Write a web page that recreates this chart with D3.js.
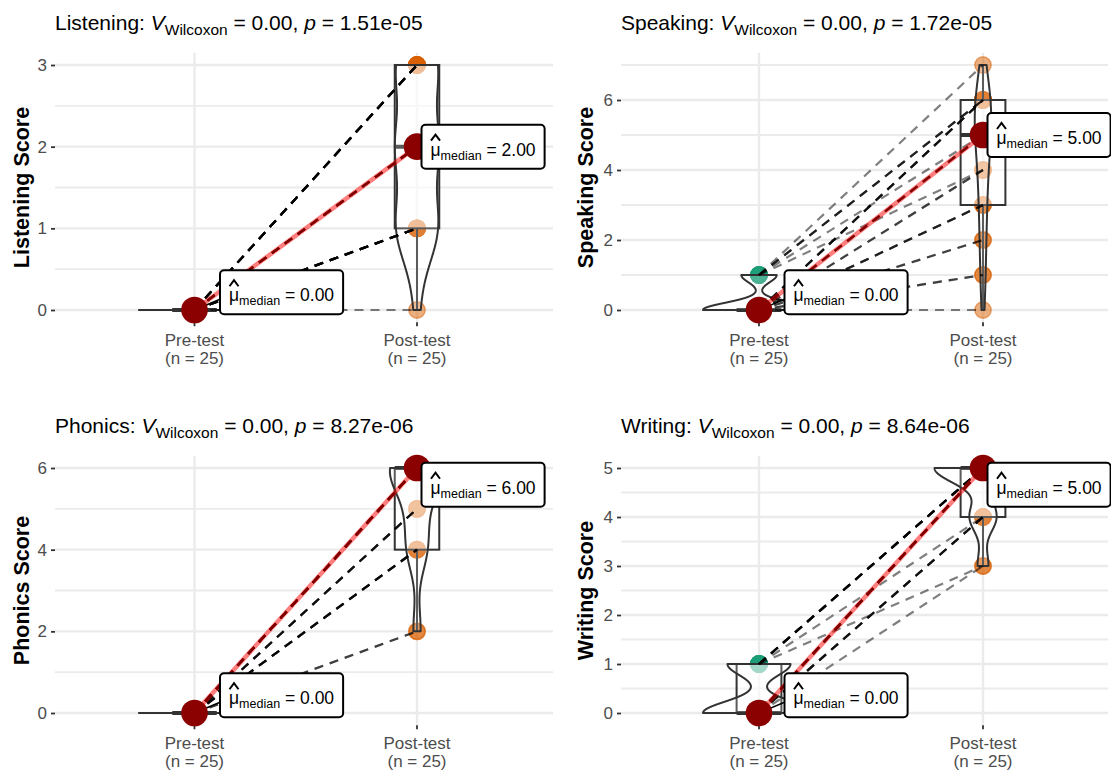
<!DOCTYPE html>
<head>
  <meta charset="utf-8" />
  <script src="https://d3js.org/d3.v7.min.js"></script>
  <style>
    body { margin: 0; background: #fff; }
    text { font-family: "Liberation Sans", Arial, sans-serif; }
  </style>
</head>
<body>
  <script>
    var width = 1111, height = 771;

    // categories and stats
    var conditions = ["Pre-test", "Post-test"];
    var skills = ["Listening", "Speaking", "Phonics", "Writing"];
    var vStats = ["0.00", "0.00", "0.00", "0.00"];
    var pValues = ["1.51e-05", "1.72e-05", "8.27e-06", "8.64e-06"];
    var yTicks = [[0, 1, 2, 3], [0, 2, 4, 6], [0, 2, 4, 6], [0, 1, 2, 3, 4, 5]];

    // scores per subject (25 subjects, same order in pre and post)
    var listeningPre  = [0,0,0,0,0,0,0,0,0,0,0,0,0,0,0,0,0,0,0,0,0,0,0,0,0];
    var listeningPost = [0,1,1,1,1,1,1,1,1,2,2,2,2,2,2,2,2,3,3,3,3,3,3,3,3];
    var speakingPre   = [0,0,0,0,0,0,0,0,0,0,0,0,0,0,0,0,0,0,0,1,1,1,1,1,1];
    var speakingPost  = [0,1,1,2,2,3,3,3,4,4,5,5,5,5,5,6,6,6,6,7,6,6,6,5,4];
    var phonicsPre    = [0,0,0,0,0,0,0,0,0,0,0,0,0,0,0,0,0,0,0,0,0,0,0,0,0];
    var phonicsPost   = [2,2,4,4,4,4,4,5,5,5,5,6,6,6,6,6,6,6,6,6,6,6,6,6,6];
    var writingPre    = [0,0,0,0,0,0,0,0,0,0,0,0,0,0,0,0,1,1,1,1,1,1,1,1,1];
    var writingPost   = [5,5,5,5,5,5,5,5,5,5,5,4,4,4,4,3,5,5,5,5,5,5,5,4,3];

    var panels = [
      { name: skills[0], pre: listeningPre, post: listeningPost, v: vStats[0], p: pValues[0], ticks: yTicks[0], col: 0, row: 0 },
      { name: skills[1], pre: speakingPre,  post: speakingPost,  v: vStats[1], p: pValues[1], ticks: yTicks[1], col: 1, row: 0 },
      { name: skills[2], pre: phonicsPre,   post: phonicsPost,   v: vStats[2], p: pValues[2], ticks: yTicks[2], col: 0, row: 1 },
      { name: skills[3], pre: writingPre,   post: writingPost,   v: vStats[3], p: pValues[3], ticks: yTicks[3], col: 1, row: 1 }
    ];

    var cols = [
      { left: 55, right: 553, pre: 194.5, post: 417, yTitleX: 29 },
      { left: 621, right: 1108, pre: 759, post: 983, yTitleX: 593 }
    ];
    var rows = [{ top: 52.75, bottom: 322.25 }, { top: 455.75, bottom: 725.25 }];

    var preColor = "#1B9E77", postColor = "#D95F02";

    var svg = d3.select("body").append("svg")
      .attr("width", width).attr("height", height)
      .style("background", "#fff");

    function sorted(v) { return v.slice().sort(d3.ascending); }

    // R's bw.nrd0
    function bwNrd0(v) {
      var s = sorted(v);
      var hi = d3.deviation(v);
      var lo = Math.min(hi, (d3.quantile(s, 0.75) - d3.quantile(s, 0.25)) / 1.34);
      if (!lo) lo = hi || Math.abs(v[0]) || 1;
      return 0.9 * lo * Math.pow(v.length, -0.2);
    }

    function kde(v) {
      var bw = bwNrd0(v), lo = d3.min(v), hi = d3.max(v), n = 512, out = [];
      for (var i = 0; i < n; i++) {
        var t = lo + (hi - lo) * i / (n - 1);
        var s = d3.sum(v, function (x) { return Math.exp(-0.5 * Math.pow((t - x) / bw, 2)); });
        out.push({ v: t, d: s / (v.length * bw * Math.sqrt(2 * Math.PI)) });
      }
      return out;
    }

    function boxStats(v) {
      var s = sorted(v);
      var q1 = d3.quantile(s, 0.25), med = d3.quantile(s, 0.5), q3 = d3.quantile(s, 0.75);
      var iqr = q3 - q1;
      var lw = d3.min(s.filter(function (d) { return d >= q1 - 1.5 * iqr; }));
      var uw = d3.max(s.filter(function (d) { return d <= q3 + 1.5 * iqr; }));
      return { q1: q1, med: med, q3: q3, lw: lw, uw: uw };
    }

    panels.forEach(function (pn) {
      var col = cols[pn.col], row = rows[pn.row];
      var g = svg.append("g");
      var x = d3.scaleLinear().domain([1, 2]).range([col.pre, col.post]);
      var unit = col.post - col.pre;
      var all = pn.pre.concat(pn.post);
      var lo = d3.min(all), hi = d3.max(all), pad = (hi - lo) * 0.05;
      var y = d3.scaleLinear().domain([lo - pad, hi + pad]).range([row.bottom, row.top]);

      // grid
      var step = pn.ticks[1] - pn.ticks[0];
      var minor = [];
      pn.ticks.forEach(function (t) { if (t + step / 2 <= hi + pad) minor.push(t + step / 2); });
      g.selectAll(".minor").data(minor).enter().append("line")
        .attr("x1", col.left).attr("x2", col.right)
        .attr("y1", function (d) { return y(d); }).attr("y2", function (d) { return y(d); })
        .attr("stroke", "#EBEBEB").attr("stroke-width", 1.8);
      g.selectAll(".major").data(pn.ticks).enter().append("line")
        .attr("x1", col.left).attr("x2", col.right)
        .attr("y1", function (d) { return y(d); }).attr("y2", function (d) { return y(d); })
        .attr("stroke", "#EBEBEB").attr("stroke-width", 2.4);
      g.selectAll(".vgrid").data([1, 2]).enter().append("line")
        .attr("x1", function (d) { return x(d); }).attr("x2", function (d) { return x(d); })
        .attr("y1", row.top).attr("y2", row.bottom)
        .attr("stroke", "#EBEBEB").attr("stroke-width", 2.4);

      // y axis
      var ya = g.append("g").attr("transform", "translate(" + col.left + ",0)")
        .call(d3.axisLeft(y).tickValues(pn.ticks).tickFormat(d3.format("d")).tickSize(4).tickPadding(4));
      ya.select(".domain").remove();
      ya.selectAll("line").attr("stroke", "#333").attr("stroke-width", 1.8);
      ya.selectAll("text").attr("fill", "#4D4D4D").attr("font-size", 17)
        .attr("font-family", "'Liberation Sans', Arial, sans-serif");

      // x axis
      var xa = g.append("g");
      [1, 2].forEach(function (c, i) {
        xa.append("line").attr("x1", x(c)).attr("x2", x(c))
          .attr("y1", row.bottom).attr("y2", row.bottom + 4)
          .attr("stroke", "#333").attr("stroke-width", 1.8);
        var t = xa.append("text").attr("x", x(c)).attr("text-anchor", "middle")
          .attr("fill", "#4D4D4D").style("font-size", "17px");
        t.append("tspan").attr("x", x(c)).attr("y", row.bottom + 24).text(conditions[i]);
        t.append("tspan").attr("x", x(c)).attr("y", row.bottom + 41.5)
          .text("(n = " + (i === 0 ? pn.pre : pn.post).length + ")");
      });

      // titles
      var tt = g.append("text").attr("x", col.left).attr("y", row.top - 22.5)
        .attr("fill", "#000").style("font-size", "21px");
      tt.append("tspan").text(pn.name + ": ");
      tt.append("tspan").style("font-style", "italic").text("V");
      tt.append("tspan").attr("dy", 5).style("font-size", "15.5px").text("Wilcoxon");
      tt.append("tspan").attr("dy", -5).text(" = " + pn.v + ", ");
      tt.append("tspan").style("font-style", "italic").text("p");
      tt.append("tspan").text(" = " + pn.p);

      g.append("text")
        .attr("transform", "translate(" + col.yTitleX + "," + (row.top + row.bottom) / 2 + ") rotate(-90)")
        .attr("text-anchor", "middle").style("font-size", "21.5px").style("font-weight", "bold")
        .text(pn.name + " Score");

      // points
      var pts = [];
      pn.pre.forEach(function (d, i) {
        pts.push({ c: 1, v: d, col: preColor });
        pts.push({ c: 2, v: pn.post[i], col: postColor });
      });
      g.selectAll(".pt").data(pts).enter().append("circle")
        .attr("cx", function (d) { return x(d.c); }).attr("cy", function (d) { return y(d.v); })
        .attr("r", 8.2)
        .attr("fill", function (d) { return d.col; }).attr("fill-opacity", 0.5)
        .attr("stroke", function (d) { return d.col; }).attr("stroke-opacity", 0.5)
        .attr("stroke-width", 1.5);

      // boxplots
      var bw2 = 0.1 * unit;
      [pn.pre, pn.post].forEach(function (v, i) {
        var b = boxStats(v), cx = x(i + 1);
        g.append("line").attr("x1", cx).attr("x2", cx).attr("y1", y(b.q3)).attr("y2", y(b.uw))
          .attr("stroke", "#333").attr("stroke-width", 2);
        g.append("line").attr("x1", cx).attr("x2", cx).attr("y1", y(b.q1)).attr("y2", y(b.lw))
          .attr("stroke", "#333").attr("stroke-width", 2);
        g.append("rect").attr("x", cx - bw2).attr("width", 2 * bw2)
          .attr("y", y(b.q3)).attr("height", Math.max(0, y(b.q1) - y(b.q3)))
          .attr("fill", "#fff").attr("fill-opacity", 0.5)
          .attr("stroke", "#333").attr("stroke-width", 2);
        g.append("line").attr("x1", cx - bw2).attr("x2", cx + bw2).attr("y1", y(b.med)).attr("y2", y(b.med))
          .attr("stroke", "#333").attr("stroke-width", 4);
      });

      // violins (area-scaled within a panel)
      var dens = [kde(pn.pre), kde(pn.post)];
      var dmax = d3.max(dens, function (a) { return d3.max(a, function (d) { return d.d; }); });
      var hw = 0.25 * unit;
      dens.forEach(function (a, i) {
        var cx = x(i + 1);
        var area = d3.area()
          .y(function (d) { return y(d.v); })
          .x0(function (d) { return cx - hw * d.d / dmax; })
          .x1(function (d) { return cx + hw * d.d / dmax; });
        g.append("path").attr("d", area(a))
          .attr("fill", "#fff").attr("fill-opacity", 0.2)
          .attr("stroke", "#333").attr("stroke-width", 2).attr("stroke-linejoin", "round");
      });

      // subject paths
      g.selectAll(".subj").data(pn.pre).enter().append("line")
        .attr("x1", x(1)).attr("y1", function (d) { return y(d); })
        .attr("x2", x(2)).attr("y2", function (d, i) { return y(pn.post[i]); })
        .attr("stroke", "#000").attr("stroke-opacity", 0.5).attr("stroke-width", 2.2)
        .attr("stroke-dasharray", "9,7");

      // centrality
      var meds = [d3.median(pn.pre), d3.median(pn.post)];
      g.append("line").attr("x1", x(1)).attr("y1", y(meds[0])).attr("x2", x(2)).attr("y2", y(meds[1]))
        .attr("stroke", "red").attr("stroke-opacity", 0.5).attr("stroke-width", 4.5);

      // label positions
      var labs = meds.map(function (m, i) {
        var px = x(i + 1), py = y(m), lh = 44, left, top;
        if (i === 0) {
          left = px + 25.5;
          top = Math.min(py - 17.5 - lh / 2, row.bottom - 8 - lh);
        } else {
          left = px + 4.5;
          top = Math.max(py - lh / 2, row.top + 7);
        }
        return { m: m, px: px, py: py, left: left, top: top, h: lh };
      });

      // segment to pre label
      g.append("line").attr("x1", labs[0].px).attr("y1", labs[0].py)
        .attr("x2", labs[0].left).attr("y2", labs[0].top + 29)
        .attr("stroke", "#000").attr("stroke-width", 1.5);

      g.selectAll(".med").data(labs).enter().append("circle")
        .attr("cx", function (d) { return d.px; }).attr("cy", function (d) { return d.py; })
        .attr("r", 13.3).attr("fill", "#8B0000");

      labs.forEach(function (l) {
        var lg = g.append("g");
        var rect = lg.append("rect").attr("x", l.left).attr("y", l.top).attr("height", l.h)
          .attr("rx", 4).attr("fill", "#fff").attr("stroke", "#000").attr("stroke-width", 2);
        var tx = l.left + 9, base = l.top + 31;
        var t = lg.append("text").attr("x", tx).attr("y", base).style("font-size", "17.5px").attr("fill", "#000");
        t.append("tspan").text("\u03bc");
        t.append("tspan").attr("dy", 4).style("font-size", "12.5px").text("median");
        t.append("tspan").attr("dy", -4).text(" = " + d3.format(".2f")(l.m));
        var tw = t.node().getComputedTextLength();
        rect.attr("width", tw + 18);
        lg.append("path")
          .attr("d", "M" + (tx + 0.5) + "," + (l.top + 16) + "L" + (tx + 5) + "," + (l.top + 10) + "L" + (tx + 9.5) + "," + (l.top + 16))
          .attr("fill", "none").attr("stroke", "#000").attr("stroke-width", 2);
      });
    });
  </script>
</body>
